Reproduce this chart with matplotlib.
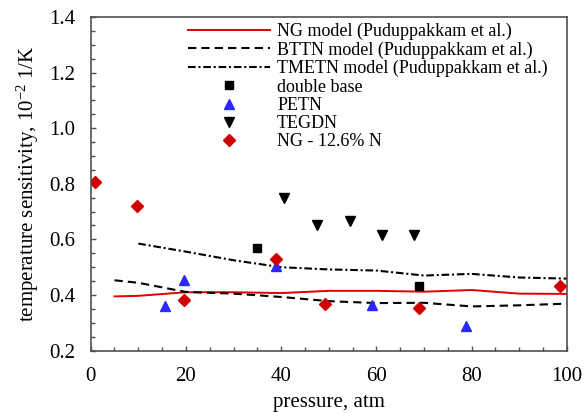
import matplotlib
matplotlib.use("Agg")
import matplotlib.pyplot as plt
from matplotlib.ticker import MultipleLocator, FormatStrFormatter

plt.rcParams['font.family'] = ['Liberation Serif', 'DejaVu Serif']
plt.rcParams['mathtext.fontset'] = 'custom'
plt.rcParams['mathtext.rm'] = 'Liberation Serif'
plt.rcParams['mathtext.it'] = 'Liberation Serif:italic'
plt.rcParams['lines.scale_dashes'] = False

# Model curves
ng_x = [5, 10, 20, 30, 40, 50, 60, 70, 80, 90, 100]
ng_y = [0.395, 0.397, 0.410, 0.410, 0.407, 0.415, 0.415, 0.412, 0.418, 0.405, 0.404]
bttn_x = [5, 10, 20, 30, 40, 50, 60, 70, 80, 90, 100]
bttn_y = [0.453, 0.444, 0.411, 0.405, 0.393, 0.378, 0.371, 0.372, 0.359, 0.363, 0.369]
tmetn_x = [10, 20, 30, 40, 50, 60, 70, 80, 90, 100]
tmetn_y = [0.585, 0.556, 0.525, 0.500, 0.492, 0.488, 0.470, 0.476, 0.463, 0.459]

# Experimental data
db_x = [34.9, 69.0]
db_y = [0.569, 0.431]
petn_x = [15.7, 19.7, 39.0, 59.1, 78.9]
petn_y = [0.362, 0.453, 0.504, 0.363, 0.290]
tegdn_x = [40.6, 47.6, 54.4, 61.2, 67.8]
tegdn_y = [0.748, 0.652, 0.666, 0.617, 0.615]
ngn_x = [0.9, 9.8, 19.7, 39.0, 49.2, 69.0, 98.5]
ngn_y = [0.807, 0.720, 0.381, 0.528, 0.369, 0.353, 0.434]

labels = ["NG model (Puduppakkam et al.)",
          "BTTN model (Puduppakkam et al.)",
          "TMETN model (Puduppakkam et al.)",
          "double base", "PETN", "TEGDN", "NG - 12.6% N"]

fig = plt.figure(figsize=(5.85, 4.13), dpi=100)
ax = fig.add_axes([0.155, 0.151, 0.814, 0.808])

ax.plot(ng_x, ng_y, color='#e00000', lw=1.4, label=labels[0])
ax.plot(bttn_x, bttn_y, color='black', lw=1.5, dashes=(6.0, 3.6), label=labels[1])
ax.plot(tmetn_x, tmetn_y, color='black', lw=1.5, dashes=(5.5, 2.0, 1.5, 2.0), label=labels[2])
ax.plot(db_x, db_y, ls='none', marker='s', ms=5.8, color='black', label=labels[3])
ax.plot(petn_x, petn_y, ls='none', marker='^', ms=7, color='#2a2aff', label=labels[4])
ax.plot(tegdn_x, tegdn_y, ls='none', marker='v', ms=7, color='black', label=labels[5])
ax.plot(ngn_x, ngn_y, ls='none', marker='D', ms=6, color='#d00000', label=labels[6])

ax.set_xlim(0, 100)
ax.set_ylim(0.2, 1.4)
ax.xaxis.set_major_locator(MultipleLocator(20))
ax.xaxis.set_minor_locator(MultipleLocator(5))
ax.yaxis.set_major_locator(MultipleLocator(0.2))
ax.yaxis.set_minor_locator(MultipleLocator(0.05))
ax.yaxis.set_major_formatter(FormatStrFormatter('%.1f'))

for s in ax.spines.values():
    s.set_color('#505050')
    s.set_linewidth(1.2)

ax.tick_params(which='both', direction='in', top=False, right=False,
               color='#505050', width=1.0)
ax.tick_params(which='major', length=3.5)
ax.tick_params(which='minor', length=3)
ax.tick_params(axis='x', which='major', labelsize=15, pad=12)
ax.tick_params(axis='y', which='major', labelsize=15, pad=11)

ax.set_xlabel('pressure, atm', fontsize=15, labelpad=5)
ax.set_ylabel('temperature sensitivity, 10$^{-2}$ 1/K', fontsize=15, labelpad=6)

leg = ax.legend(loc='upper left', bbox_to_anchor=(0.205, 0.982), frameon=False,
                fontsize=13, handlelength=4.5, handletextpad=0.42,
                labelspacing=0.07, borderpad=0, borderaxespad=0, numpoints=1)

fig.savefig('out.png', dpi=100)
